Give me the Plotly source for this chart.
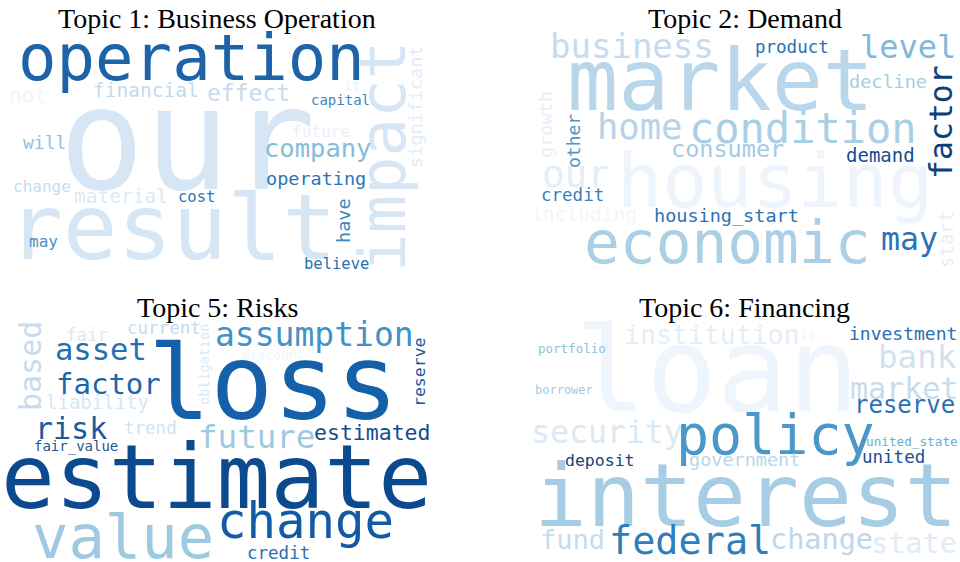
import plotly.graph_objects as go

# ---------------- data ----------------
TITLES = ["Topic 1: Business Operation", "Topic 2: Demand", "Topic 5: Risks", "Topic 6: Financing"]

T1_WORDS = ["operation", "our", "result", "impact", "significant", "not", "financial", "effect", "it",
            "capital", "future", "will", "company", "operating", "change", "material", "cost", "have",
            "may", "believe"]
T1_WEIGHTS = [64, 142, 91, 64, 18.5, 21, 19.5, 23, 14, 14, 16, 18, 25.5, 18.5, 16, 19.5, 15.5, 18.5, 16, 15.5]
T1_COLORS = ["#1c63a8", "#d6e6f4", "#d6e6f4", "#d6e6f4", "#e1edf8", "#eef5fc", "#c2daee", "#c6dbef",
             "#e8f1fa", "#3a86c2", "#e8f1fa", "#8fc1de", "#85bcdc", "#2a75b9", "#c6dbef", "#dceaf6",
             "#2f78b6", "#3a86c2", "#4a92c8", "#2a6fb0"]

T2_WORDS = ["market", "business", "product", "level", "decline", "factor", "growth", "other", "home",
            "condition", "consumer", "demand", "our", "housing", "credit", "including", "housing_start",
            "economic", "may", "start"]
T2_WEIGHTS = [85, 34, 17.5, 32, 18.5, 31.5, 18.5, 18, 35.5, 42, 23.5, 19, 37.5, 75, 17.5, 19.5, 18.5, 59.5, 31.5, 19]
T2_COLORS = ["#bad6eb", "#c6dbef", "#2a70b3", "#7fb8da", "#a6cde3", "#0d3f7a", "#e6eff8", "#4a98c9",
             "#b5d3ea", "#a9cfe5", "#a3cbe3", "#134f8f", "#e4eef8", "#edf4fb", "#3a80bd", "#f0f6fc",
             "#2c72b3", "#abd0e6", "#2a72b5", "#e6eff8"]

T5_WORDS = ["based", "fair", "current", "obligation", "discount", "assumption", "reserve", "asset", "loss",
            "factor", "liability", "risk", "trend", "fair_value", "future", "estimated", "estimate",
            "value", "change", "credit"]
T5_WEIGHTS = [30, 17.5, 17.5, 13.5, 13, 33, 16.5, 30.5, 104, 29, 19, 30, 17.5, 14, 32.5, 21.5, 89.5, 60.5, 49, 17.5]
T5_COLORS = ["#c6dbef", "#dbe9f6", "#c6dbef", "#dbe9f6", "#eef5fc", "#4292c6", "#195a9c", "#2271b5",
             "#1561a9", "#1c66ae", "#d6e6f4", "#1b5b9c", "#d1e2f2", "#24578f", "#9ecae1", "#134d8c",
             "#0b4a8f", "#9ecae1", "#125ba2", "#2b70b2"]

T6_WORDS = ["loan", "institution", "it", "investment", "portfolio", "bank", "borrower", "market", "reserve",
            "security", "policy", "united_state", "united", "deposit", "government", "interest", "fund",
            "federal", "change", "state"]
T6_WEIGHTS = [118, 26.5, 13, 18, 12.5, 32.5, 12, 30, 24, 31.5, 55, 12.7, 17.5, 16.5, 18.5, 88, 27, 38.5, 28.5, 28.5]
T6_COLORS = ["#eef5fc", "#e3eef9", "#eef5fc", "#2a6fb2", "#8fc0de", "#d0e1f2", "#a3cbe3", "#c6dbef",
             "#2a72b5", "#dbe9f6", "#4a98c9", "#6baed6", "#16508f", "#16457f", "#b9d6ea", "#a6cde3",
             "#c6dbef", "#2f7dbb", "#bcd7ec", "#e0ecf7"]

# ---------------- layout (word-cloud placement, page pixel coordinates) ----------------
TITLE_X = [217, 745, 217, 744]
TITLE_Y = [18, 18, 307, 307]

T1_X = [191, 187, 172, 383, 415, 28, 146, 248, 352, 340, 321, 44, 317, 316, 42, 121, 196, 343, 43, 336]
T1_Y = [58, 139, 227, 157, 107, 96, 90, 93, 86, 100, 131, 142, 148, 178, 186, 196, 197, 221, 241, 264]
T1_ROT = [0, 0, 0, -90, -90, 0, 0, 0, 0, 0, 0, 0, 0, 0, 0, 0, 0, -90, 0, 0]

T2_X = [720, 632, 792, 908, 888, 941, 545, 573, 640, 803, 727, 880, 576, 775, 572, 584, 726, 727, 909, 946]
T2_Y = [80, 46, 47, 47, 81, 122, 125, 141, 126, 128, 149, 155, 174, 181, 195, 214, 215, 242, 239, 240]
T2_ROT = [0, 0, 0, 0, 0, -90, -90, -90, 0, 0, 0, 0, 0, 0, 0, 0, 0, 0, 0, -90]

T5_X = [30, 87, 164, 204, 273, 314, 419, 101, 273, 108, 97, 71, 150, 76, 256, 372, 216, 123, 305, 278]
T5_Y = [366, 335, 328, 365, 354, 334, 372, 349, 383, 384, 402, 428, 428, 446, 437, 432, 477, 537, 521, 553]
T5_ROT = [-90, 0, 0, -90, 0, 0, -90, 0, 0, 0, 0, 0, 0, 0, 0, 0, 0, 0, 0, 0]

T6_X = [717, 712, 808, 903, 572, 917, 564, 904, 904, 607, 775, 912, 893, 600, 744, 746, 572, 690, 821, 914]
T6_Y = [370, 334, 335, 333, 348, 357, 390, 388, 405, 432, 435, 441, 457, 460, 459, 495, 539, 540, 539, 543]
T6_ROT = [0] * 20

WORD_FONT = "DejaVu Sans Mono"
TITLE_FONT = "Liberation Serif"

fig = go.Figure()
# invisible trace to establish axes
fig.add_trace(go.Scatter(x=[0, 960], y=[0, 562], mode="markers", marker=dict(opacity=0),
                         hoverinfo="skip", showlegend=False))

annotations = []
clouds = [
    (T1_WORDS, T1_WEIGHTS, T1_COLORS, T1_X, T1_Y, T1_ROT),
    (T2_WORDS, T2_WEIGHTS, T2_COLORS, T2_X, T2_Y, T2_ROT),
    (T5_WORDS, T5_WEIGHTS, T5_COLORS, T5_X, T5_Y, T5_ROT),
    (T6_WORDS, T6_WEIGHTS, T6_COLORS, T6_X, T6_Y, T6_ROT),
]
for words, weights, colors, xs, ys, rots in clouds:
    for w, s, c, x, y, r in zip(words, weights, colors, xs, ys, rots):
        annotations.append(dict(
            x=x, y=y, xref="x", yref="y", text=w, showarrow=False,
            xanchor="center", yanchor="middle", textangle=r, borderpad=0,
            font=dict(family=WORD_FONT, size=s, color=c)))

for t, x, y in zip(TITLES, TITLE_X, TITLE_Y):
    annotations.append(dict(
        x=x, y=y, xref="x", yref="y", text=t, showarrow=False,
        xanchor="center", yanchor="middle", borderpad=0,
        font=dict(family=TITLE_FONT, size=28, color="#000000")))

fig.update_layout(
    width=960, height=562,
    margin=dict(l=0, r=0, t=0, b=0),
    paper_bgcolor="white", plot_bgcolor="white",
    xaxis=dict(range=[0, 960], visible=False, fixedrange=True),
    yaxis=dict(range=[562, 0], visible=False, fixedrange=True),
    annotations=annotations,
    showlegend=False,
)

fig.write_html("out.html", config={"displayModeBar": False},
               post_script="document.body.style.margin='0';document.body.style.overflow='hidden';")
